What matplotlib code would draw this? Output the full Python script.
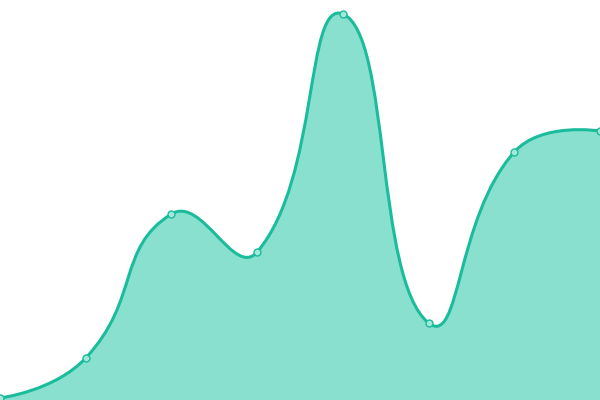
import numpy as np
import matplotlib
matplotlib.use("Agg")
import matplotlib.pyplot as plt
from matplotlib.path import Path
from matplotlib.patches import PathPatch

categories = ["1", "2", "3", "4", "5", "6", "7", "8"]
values = [2, 42, 186, 148, 386, 77, 248, 269]

LINE = "#1abc9c"
FILL = "#8ae0cf"

fig = plt.figure(figsize=(6, 4), dpi=100)
ax = fig.add_axes([0, 0, 1, 1])
ax.set_xlim(0, len(categories) - 1)
ax.set_ylim(0, 400)
ax.axis("off")

x = np.arange(len(categories), dtype=float)
y = np.array(values, dtype=float)

# smoothing in pixel space (ECharts-like, smooth=0.5)
sx = 600.0 / (len(categories) - 1)
px = x * sx
py = y.copy()
smooth = 0.5
n = len(px)
cp_in = [None] * n
cp_out = [None] * n
for i in range(n):
    cur = np.array([px[i], py[i]])
    if i == 0 or i == n - 1:
        cp_in[i] = cur.copy()
        cp_out[i] = cur.copy()
        continue
    prev = np.array([px[i - 1], py[i - 1]])
    nxt = np.array([px[i + 1], py[i + 1]])
    v = nxt - prev
    d0 = np.linalg.norm(cur - prev)
    d1 = np.linalg.norm(nxt - cur)
    r = d1 / (d0 + d1)
    cp_out[i] = cur + v * smooth * r
    cp_in[i] = cur - v * smooth * (1 - r)

verts = [(px[0] / sx, py[0])]
codes = [Path.MOVETO]
for i in range(1, n):
    c0 = cp_out[i - 1]
    c1 = cp_in[i]
    verts += [(c0[0] / sx, c0[1]), (c1[0] / sx, c1[1]), (px[i] / sx, py[i])]
    codes += [Path.CURVE4] * 3

line_path = Path(verts, codes)
area_verts = verts + [(x[-1], 0), (x[0], 0), verts[0]]
area_codes = codes + [Path.LINETO, Path.LINETO, Path.CLOSEPOLY]
ax.add_patch(PathPatch(Path(area_verts, area_codes), facecolor=FILL, edgecolor="none", zorder=1))
ax.add_patch(PathPatch(line_path, facecolor="none", edgecolor=LINE, lw=2.2, zorder=2))
ax.plot(x, y, linestyle="none", marker="o", markersize=5, markerfacecolor="#a3e8d8",
        markeredgecolor=LINE, markeredgewidth=1.0, zorder=3)

fig.savefig("out.png", dpi=100)
